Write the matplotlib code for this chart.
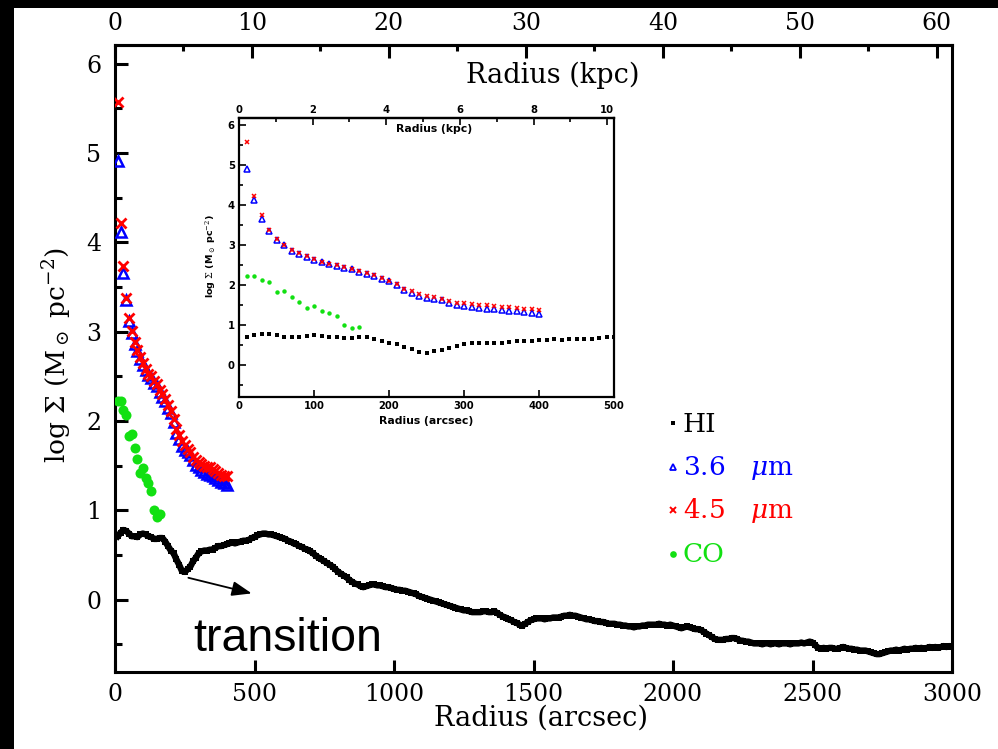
import numpy as np
import matplotlib
matplotlib.use("Agg")
import matplotlib.pyplot as plt
from matplotlib.patches import Rectangle
from matplotlib.lines import Line2D
from matplotlib.ticker import MultipleLocator, NullLocator, FixedLocator

# ---------------------------------------------------------------- data
# HI surface density, sampled every 10 arcsec from 10 to 3000 arcsec
hi_radius = np.arange(10, 3001, 10)
hi_logsigma = [
    0.71, 0.75, 0.78, 0.77, 0.74, 0.71, 0.71, 0.70, 0.73, 0.74,
    0.73, 0.71, 0.70, 0.68, 0.68, 0.69, 0.69, 0.65, 0.60, 0.55,
    0.52, 0.45, 0.39, 0.32, 0.31, 0.34, 0.37, 0.43, 0.47, 0.52,
    0.54, 0.55, 0.55, 0.56, 0.56, 0.58, 0.60, 0.60, 0.61, 0.62,
    0.63, 0.64, 0.63, 0.64, 0.65, 0.66, 0.66, 0.67, 0.69, 0.70,
    0.72, 0.73, 0.74, 0.74, 0.73, 0.73, 0.72, 0.71, 0.70, 0.69,
    0.68, 0.66, 0.65, 0.63, 0.62, 0.60, 0.59, 0.57, 0.56, 0.54,
    0.52, 0.49, 0.47, 0.45, 0.43, 0.41, 0.39, 0.37, 0.34, 0.31,
    0.29, 0.27, 0.25, 0.22, 0.20, 0.18, 0.17, 0.15, 0.14, 0.15,
    0.16, 0.17, 0.17, 0.16, 0.16, 0.15, 0.14, 0.14, 0.13, 0.12,
    0.11, 0.11, 0.10, 0.10, 0.09, 0.08, 0.07, 0.06, 0.04, 0.03,
    0.02, 0.01, 0.00, -0.01, -0.02, -0.03, -0.04, -0.05, -0.06, -0.07,
    -0.08, -0.09, -0.10, -0.11, -0.12, -0.12, -0.13, -0.14, -0.14, -0.14,
    -0.14, -0.13, -0.13, -0.14, -0.14, -0.13, -0.15, -0.17, -0.19, -0.20,
    -0.22, -0.23, -0.25, -0.26, -0.28, -0.29, -0.27, -0.25, -0.23, -0.22,
    -0.21, -0.21, -0.21, -0.22, -0.21, -0.21, -0.20, -0.20, -0.20, -0.19,
    -0.18, -0.18, -0.17, -0.18, -0.18, -0.19, -0.20, -0.21, -0.22, -0.22,
    -0.23, -0.24, -0.24, -0.25, -0.25, -0.26, -0.27, -0.27, -0.27, -0.28,
    -0.28, -0.29, -0.29, -0.30, -0.30, -0.31, -0.30, -0.30, -0.29, -0.29,
    -0.28, -0.28, -0.28, -0.28, -0.27, -0.28, -0.28, -0.29, -0.28, -0.29,
    -0.30, -0.31, -0.32, -0.31, -0.30, -0.31, -0.32, -0.33, -0.33, -0.34,
    -0.36, -0.38, -0.40, -0.42, -0.44, -0.45, -0.45, -0.45, -0.44, -0.44,
    -0.43, -0.43, -0.44, -0.46, -0.46, -0.47, -0.47, -0.48, -0.49, -0.49,
    -0.49, -0.50, -0.49, -0.49, -0.50, -0.49, -0.49, -0.50, -0.49, -0.49,
    -0.49, -0.50, -0.49, -0.49, -0.49, -0.48, -0.49, -0.48, -0.47, -0.48,
    -0.51, -0.54, -0.55, -0.54, -0.55, -0.54, -0.54, -0.55, -0.55, -0.54,
    -0.53, -0.54, -0.55, -0.55, -0.56, -0.56, -0.57, -0.57, -0.57, -0.58,
    -0.59, -0.60, -0.61, -0.61, -0.60, -0.59, -0.58, -0.57, -0.57, -0.56,
    -0.57, -0.56, -0.55, -0.56, -0.55, -0.55, -0.54, -0.55, -0.54, -0.55,
    -0.54, -0.53, -0.54, -0.53, -0.54, -0.53, -0.52, -0.53, -0.52, -0.53,
]

# stellar surface density from IRAC 3.6 and 4.5 micron, 10 to 400 arcsec
irac_radius = np.arange(10, 401, 10)
irac36_logsigma = [
    4.91, 4.12, 3.66, 3.35, 3.12, 2.99, 2.86, 2.78, 2.70, 2.63,
    2.57, 2.52, 2.48, 2.43, 2.39, 2.32, 2.27, 2.22, 2.15, 2.09,
    1.99, 1.87, 1.80, 1.72, 1.68, 1.65, 1.62, 1.56, 1.51, 1.48,
    1.45, 1.43, 1.41, 1.40, 1.38, 1.36, 1.34, 1.32, 1.31, 1.28,
]
irac45_logsigma = [
    5.57, 4.22, 3.74, 3.38, 3.15, 3.01, 2.88, 2.80, 2.72, 2.65,
    2.58, 2.53, 2.50, 2.45, 2.41, 2.35, 2.30, 2.25, 2.18, 2.11,
    2.02, 1.91, 1.84, 1.78, 1.73, 1.69, 1.65, 1.60, 1.56, 1.54,
    1.52, 1.50, 1.49, 1.48, 1.46, 1.44, 1.42, 1.40, 1.39, 1.38,
]

# molecular gas (CO), 10 to 160 arcsec
co_radius = np.arange(10, 161, 10)
co_logsigma = [
    2.22, 2.22, 2.12, 2.07, 1.83, 1.86, 1.70, 1.57,
    1.42, 1.47, 1.36, 1.31, 1.22, 1.00, 0.93, 0.96,
]

ARCSEC_PER_KPC = 49.1

main_kpc_ticks = [0, 10, 20, 30, 40, 50, 60]
main_kpc_minor = [5, 15, 25, 35, 45, 55]
inset_kpc_ticks = [0, 2, 4, 6, 8, 10]
inset_kpc_minor = [1, 3, 5, 7, 9]
inset_arcsec_ticks = [0, 100, 200, 300, 400, 500]
inset_log_ticks = [0, 1, 2, 3, 4, 5, 6]

legend_labels = ["HI", r"3.6   $\mu$m", r"4.5   $\mu$m", "CO"]

GREEN = "#12e012"
BLUE = "#0000ff"
RED = "#ff0000"


def to_kpc(a):
    return np.asarray(a) / ARCSEC_PER_KPC


def to_arcsec(k):
    return np.asarray(k) * ARCSEC_PER_KPC


plt.rcParams["font.family"] = "DejaVu Serif"
plt.rcParams["mathtext.fontset"] = "dejavuserif"

W, H = 998, 749
fig = plt.figure(figsize=(W / 100, H / 100), dpi=100, facecolor="black")
fig.patches.append(Rectangle((14 / W, 0), 1, 1 - 8 / H, transform=fig.transFigure,
                             facecolor="white", edgecolor="none", zorder=-10))


def fx(px):
    return px / W


def fy(py):
    return 1 - py / H


# ---------------------------------------------------------------- main panel
ax = fig.add_axes([fx(115), fy(672), 837 / W, 627 / H])
ax.set_xlim(0, 3000)
ax.set_ylim(-0.81, 6.21)

ax.plot(hi_radius, hi_logsigma, ls="-", lw=4.6, color="black",
        marker="s", ms=5.0, mew=0, zorder=3)
ax.plot(co_radius, co_logsigma, ls="none", marker="o", ms=7.2, mew=0,
        color=GREEN, zorder=4)
ax.plot(irac_radius, irac36_logsigma, ls="none", marker="^", ms=7.0,
        mfc="none", mec=BLUE, mew=1.8, zorder=5)
ax.plot(irac_radius, irac45_logsigma, ls="none", marker="x", ms=6.8,
        color=RED, mew=2.0, zorder=6)

for s in ax.spines.values():
    s.set_linewidth(2.2)
ax.xaxis.set_major_locator(MultipleLocator(500))
ax.xaxis.set_minor_locator(NullLocator())
ax.yaxis.set_major_locator(MultipleLocator(1))
ax.yaxis.set_minor_locator(MultipleLocator(0.5))
ax.tick_params(which="both", direction="in", top=False, right=False, width=2.2)
ax.tick_params(which="major", length=9, labelsize=17)
ax.tick_params(which="minor", length=5)
ax.tick_params(axis="x", which="major", pad=8)
ax.tick_params(axis="y", which="major", pad=10)

sec = ax.secondary_xaxis("top", functions=(to_kpc, to_arcsec))
sec.xaxis.set_major_locator(FixedLocator(main_kpc_ticks))
sec.xaxis.set_minor_locator(FixedLocator(main_kpc_minor))
sec.tick_params(which="both", direction="in", width=2.2)
sec.tick_params(which="major", length=9, labelsize=17, pad=7)
sec.tick_params(which="minor", length=4)
sec.spines["top"].set_linewidth(2.2)

ax.text(0.523, 0.952, "Radius (kpc)", transform=ax.transAxes,
        ha="center", va="center", fontsize=19.5)
fig.text(fx(541), fy(718), "Radius (arcsec)", ha="center", va="center", fontsize=19.5)
fig.text(fx(57), fy(355), r"log $\Sigma$ (M$_\odot$ pc$^{-2}$)", rotation=90,
         ha="center", va="center", fontsize=19)

# transition annotation
ax.annotate("", xy=(490, 0.07), xytext=(263, 0.245),
            arrowprops=dict(arrowstyle="-|>,head_length=1.2,head_width=0.45",
                            mutation_scale=10, lw=1.3, color="black",
                            shrinkA=0, shrinkB=0))
ax.text(280, -0.577, "transition", family="Liberation Sans", fontsize=33.5,
        ha="left", va="baseline", color="black")

# hand-drawn legend
legend_rows = [
    (431.7, "black", dict(marker="s", ms=3.0, mfc="black", mec="black", mew=0)),
    (475.0, BLUE, dict(marker="^", ms=4.5, mfc="none", mec=BLUE, mew=1.3)),
    (518.0, RED, dict(marker="x", ms=4.2, mec=RED, mew=1.4)),
    (562.0, GREEN, dict(marker="o", ms=4.8, mfc=GREEN, mec=GREEN, mew=0)),
]
for label, (base, col, mk) in zip(legend_labels, legend_rows):
    fig.add_artist(Line2D([fx(673)], [fy(base - 8.5)], transform=fig.transFigure,
                          ls="none", **mk))
    fig.text(fx(683), fy(base), label, color=col, fontsize=19,
             ha="left", va="baseline")

# ---------------------------------------------------------------- inset
ax_in = fig.add_axes([fx(239), fy(397), 375 / W, 279 / H])
ax_in.set_xlim(0, 500)
ax_in.set_ylim(-0.8, 6.175)

inner = hi_radius <= 500
ax_in.plot(hi_radius[inner], np.asarray(hi_logsigma)[inner], ls="none",
           marker="s", ms=2.3, mew=0, color="black")
ax_in.plot(co_radius, co_logsigma, ls="none", marker="o", ms=3.2, mew=0, color=GREEN)
ax_in.plot(irac_radius, irac36_logsigma, ls="none", marker="^", ms=3.8,
           mfc="none", mec=BLUE, mew=1.1)
ax_in.plot(irac_radius, irac45_logsigma, ls="none", marker="x", ms=3.4,
           mec=RED, mew=1.1)

for s in ax_in.spines.values():
    s.set_linewidth(1.6)

lab_kw = dict(fontweight="bold", family="DejaVu Sans", fontsize=7.2)
ax_in.set_xticks(inset_arcsec_ticks,
                 labels=[str(t) for t in inset_arcsec_ticks], **lab_kw)
ax_in.set_yticks(inset_log_ticks,
                 labels=[str(t) for t in inset_log_ticks], **lab_kw)
ax_in.yaxis.set_minor_locator(MultipleLocator(0.5))
ax_in.tick_params(which="both", direction="in", top=False, right=False, width=1.2)
ax_in.tick_params(which="major", length=5, pad=3)
ax_in.tick_params(which="minor", length=3)

sec_in = ax_in.secondary_xaxis("top", functions=(to_kpc, to_arcsec))
sec_in.xaxis.set_ticks(inset_kpc_ticks,
                       labels=[str(t) for t in inset_kpc_ticks], **lab_kw)
sec_in.xaxis.set_minor_locator(FixedLocator(inset_kpc_minor))
sec_in.tick_params(which="both", direction="in", width=1.2)
sec_in.tick_params(which="major", length=5, pad=2)
sec_in.tick_params(which="minor", length=3)
sec_in.spines["top"].set_linewidth(1.6)

fig.text(fx(434), fy(129), "Radius (kpc)", ha="center", va="center",
         fontweight="bold", family="DejaVu Sans", fontsize=7.8)
fig.text(fx(426), fy(421), "Radius (arcsec)", ha="center", va="center",
         fontweight="bold", family="DejaVu Sans", fontsize=7.8)
fig.text(fx(211), fy(256), r"log $\Sigma$ (M$_\odot$ pc$^{-2}$)", rotation=90,
         ha="center", va="center", fontweight="bold", family="DejaVu Sans",
         fontsize=6.8)

fig.savefig("out.png", dpi=100, facecolor="black")
